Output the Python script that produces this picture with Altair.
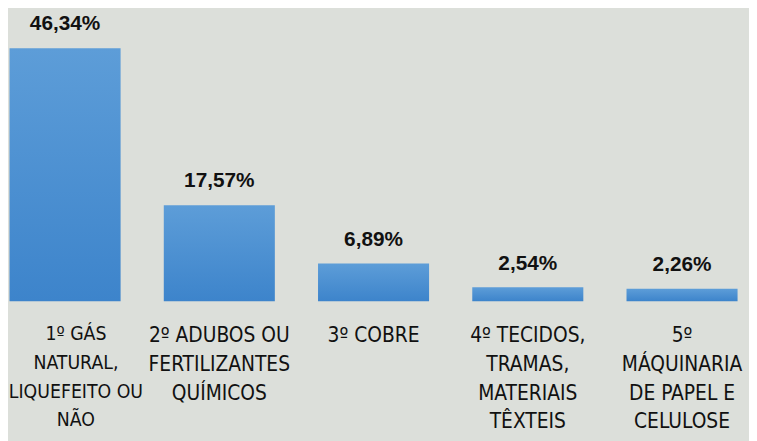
import altair as alt
import pandas as pd

categories = [
    "1º GÁS|NATURAL,|LIQUEFEITO OU|NÃO",
    "2º ADUBOS OU|FERTILIZANTES|QUÍMICOS",
    "3º COBRE",
    "4º TECIDOS,|TRAMAS,|MATERIAIS|TÊXTEIS",
    "5º|MÁQUINARIA|DE PAPEL E|CELULOSE",
]
values = [46.34, 17.57, 6.89, 2.54, 2.26]
labels = ["46,34%", "17,57%", "6,89%", "2,54%", "2,26%"]

df = pd.DataFrame({"cat": categories, "val": values, "lab": labels})

first = "datum.index == 0"

x = alt.X(
    "cat:N",
    sort=categories,
    scale=alt.Scale(paddingInner=0.28, paddingOuter=0.01),
    axis=alt.Axis(
        title=None,
        labelExpr="split(datum.label, '|')",
        labelAngle=0,
        labelFont="DejaVu Sans Condensed",
        labelFontSize={"condition": {"test": first, "value": 19.5}, "value": 21},
        labelOffset={"condition": {"test": first, "value": 11}, "value": 0},
        labelColor="#111111",
        labelLineHeight=29,
        labelPadding=24,
        labelBaseline="top",
        labelAlign="center",
        domain=False,
        ticks=False,
        grid=False,
        labelLimit=300,
        labelOverlap=False,
    ),
)
y = alt.Y("val:Q", scale=alt.Scale(domain=[0, 53.3], nice=False), axis=None)

bars = alt.Chart(df).mark_bar(
    color=alt.Gradient(
        gradient="linear",
        x1=0, y1=0, x2=0, y2=1,
        stops=[
            alt.GradientStop(color="#5d9dd8", offset=0),
            alt.GradientStop(color="#3d84cb", offset=1),
        ],
    )
).encode(x=x, y=y)

text = alt.Chart(df).mark_text(
    font="Liberation Sans",
    fontWeight="bold",
    fontSize=21,
    baseline="alphabetic",
    dy=-18,
    color="#111111",
).encode(x=x, y=y, text="lab:N")

chart = (
    (bars + text)
    .properties(
        width=739,
        height=294,
        background="#dcdfda",
        padding={"left": 0, "top": 0, "right": 10, "bottom": 139},
        autosize=alt.AutoSizeParams(type="none"),
    )
    .configure_view(stroke=None)
)

chart.save("out.html", embed_options={"renderer": "svg", "actions": False})
